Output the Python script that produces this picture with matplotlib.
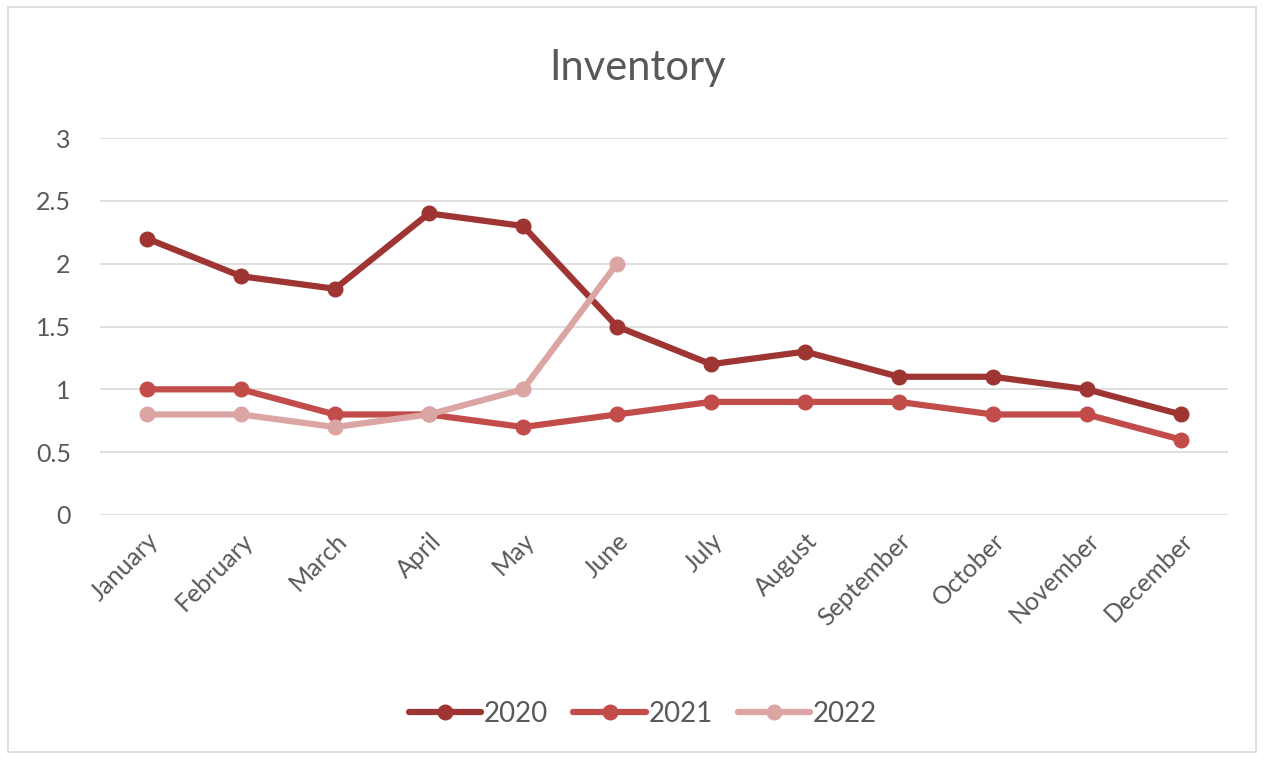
import matplotlib.pyplot as plt
from matplotlib.patches import Rectangle

months = ['January', 'February', 'March', 'April', 'May', 'June', 'July',
          'August', 'September', 'October', 'November', 'December']
inv_2020 = [2.2, 1.9, 1.8, 2.4, 2.3, 1.5, 1.2, 1.3, 1.1, 1.1, 1.0, 0.8]
inv_2021 = [1.0, 1.0, 0.8, 0.8, 0.7, 0.8, 0.9, 0.9, 0.9, 0.8, 0.8, 0.6]
inv_2022 = [0.8, 0.8, 0.7, 0.8, 1.0, 2.0]
yticks = [0, 0.5, 1, 1.5, 2, 2.5, 3]

plt.rcParams['font.family'] = ['Lato', 'DejaVu Sans']
text_gray = '#595959'

fig = plt.figure(figsize=(12.65, 7.59), dpi=100)
ax = fig.add_axes([100 / 1265, 1 - 515 / 759, 1128 / 1265, 377 / 759])

# outer chart border
fig.patches.append(Rectangle((8 / 1265, 7 / 759), 1248 / 1265, 745 / 759,
                             transform=fig.transFigure, fill=False,
                             edgecolor='#D9D9D9', linewidth=1.2))

series = [('2020', inv_2020, '#9E3533'),
          ('2021', inv_2021, '#C24C49'),
          ('2022', inv_2022, '#DBA5A3')]
for name, vals, col in series:
    ax.plot(range(len(vals)), vals, color=col, linewidth=4.5,
            marker='o', markersize=10.5, label=name, solid_capstyle='round')

ax.set_xlim(-0.5, 11.5)
ax.set_ylim(0, 3)
ax.set_yticks(yticks)
ax.set_yticklabels([f'{t:g}' for t in yticks])
ax.set_xticks(range(len(months)))
ax.set_xticklabels(months, rotation=45, ha='right', rotation_mode='anchor')
ax.tick_params(axis='both', length=0, labelsize=18, labelcolor=text_gray)
ax.tick_params(axis='y', pad=21)
ax.tick_params(axis='x', pad=10)
ax.grid(axis='y', color='#D9D9D9', linewidth=1.2)
ax.set_axisbelow(True)
for s in ax.spines.values():
    s.set_visible(False)

fig.text(638 / 1265, 1 - 68 / 759, 'Inventory', ha='center', va='center',
         fontsize=30, color=text_gray)

fig.legend(loc='center', bbox_to_anchor=(643 / 1265, 1 - 714 / 759), ncol=3,
           frameon=False, fontsize=20, labelcolor=text_gray,
           handlelength=2.6, handletextpad=0.1, columnspacing=0.9)

fig.savefig('out.png', dpi=100)
